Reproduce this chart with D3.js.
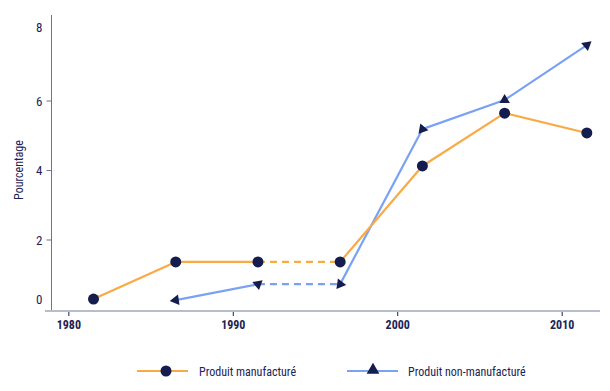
<!DOCTYPE html>
<html><head><meta charset="utf-8">
<script src="https://cdn.jsdelivr.net/npm/d3@7"></script>
<style>
body{margin:0;background:#fff;}
text{font-family:"Liberation Sans Narrow","Roboto Condensed","Liberation Sans",sans-serif;fill:#1b2356;}
</style></head>
<body><svg id="c" width="610" height="391"></svg>
<script>
const years = [1981.5, 1986.5, 1991.5, 1996.5, 2001.5, 2006.5, 2011.5];
const manufValues = [0.30, 1.37, 1.37, 1.37, 4.13, 5.65, 5.08];
const nonManufYears = [1986.5, 1991.5, 1996.5, 2001.5, 2006.5, 2011.5];
const nonManufValues = [0.27, 0.73, 0.73, 5.19, 6.03, 7.61];
const dashedFrom = 1991.5, dashedTo = 1996.5;
const xTicks = [1980, 1990, 2000, 2010];
const yTicks = [0, 2, 4, 6, 8];
const seriesNames = ["Produit manufacturé", "Produit non-manufacturé"];
const triangleAngles = [172, 200, 8, 130, -90, -40];

const svg = d3.select("#c");
const x = d3.scaleLinear().domain([1978.55, 2012.3]).range([45, 600]);
const y = d3.scaleLinear().domain([2, 6]).range([240, 101]);
const orange = "#f9aa45", blue = "#79a1f4", navy = "#141d4e";

// axes
svg.append("line").attr("x1", 51.5).attr("x2", 51.5).attr("y1", 15).attr("y2", 311).attr("stroke", "#6e7390").attr("stroke-width", 1);
svg.append("line").attr("x1", 45).attr("x2", 600).attr("y1", 311).attr("y2", 311).attr("stroke", "#b9bccb").attr("stroke-width", 2);

const yAxis = svg.append("g").attr("transform", "translate(51.5,0)");
yTicks.forEach(t => {
  const g = yAxis.append("g");
  if (t > 0 && t < 8) g.append("line").attr("x1", -5).attr("x2", 0).attr("y1", y(t)).attr("y2", y(t)).attr("stroke", "#6e7390");
  let yy = y(t);
  if (t === 0) yy = 299;
  if (t === 8) yy = 27;
  g.append("text").attr("x", -9).attr("y", yy).attr("dy", "0.35em").attr("text-anchor", "end").attr("font-size", 13).text(t);
});

const xAxis = svg.append("g");
xTicks.forEach(t => {
  xAxis.append("line").attr("x1", x(t)).attr("x2", x(t)).attr("y1", 312).attr("y2", 316).attr("stroke", "#1b2356");
  xAxis.append("text").attr("x", x(t)).attr("y", 325).attr("dy", "0.35em").attr("text-anchor", "middle").attr("font-size", 12).attr("font-weight", "bold").text(t);
});

svg.append("text").attr("transform", "translate(19,170) rotate(-90)").attr("text-anchor", "middle").attr("dy", "0.35em").attr("font-size", 12).text("Pourcentage");

function drawSeries(xs, vs, color) {
  for (let i = 0; i < xs.length - 1; i++) {
    const dashed = xs[i] === dashedFrom && xs[i + 1] === dashedTo;
    svg.append("line").attr("x1", x(xs[i])).attr("y1", y(vs[i])).attr("x2", x(xs[i + 1])).attr("y2", y(vs[i + 1]))
      .attr("stroke", color).attr("stroke-width", 2.2).attr("stroke-dasharray", dashed ? "7,5" : null);
  }
}
drawSeries(nonManufYears, nonManufValues, blue);
drawSeries(years, manufValues, orange);

const circle = d3.symbol().type(d3.symbolCircle).size(95);
const tri = d3.symbol().type(d3.symbolTriangle).size(48);
years.forEach((yr, i) => {
  svg.append("path").attr("d", circle()).attr("transform", `translate(${x(yr)},${y(manufValues[i])})`).attr("fill", navy);
});
nonManufYears.forEach((yr, i) => {
  svg.append("path").attr("d", tri()).attr("transform", `translate(${x(yr)},${y(nonManufValues[i])}) rotate(${triangleAngles[i] + 90})`).attr("fill", navy);
});

// legend
const lg = svg.append("g");
lg.append("line").attr("x1", 137).attr("x2", 188).attr("y1", 371).attr("y2", 371).attr("stroke", orange).attr("stroke-width", 2.2);
lg.append("path").attr("d", circle()).attr("transform", "translate(166,371)").attr("fill", navy);
lg.append("text").attr("x", 199).attr("y", 372).attr("dy", "0.35em").attr("font-size", 12).text(seriesNames[0]);
lg.append("line").attr("x1", 347).attr("x2", 398).attr("y1", 371).attr("y2", 371).attr("stroke", blue).attr("stroke-width", 2.2);
lg.append("path").attr("d", d3.symbol().type(d3.symbolTriangle).size(70)()).attr("transform", "translate(373,370)").attr("fill", navy);
lg.append("text").attr("x", 408).attr("y", 372).attr("dy", "0.35em").attr("font-size", 12).text(seriesNames[1]);
</script></body></html>
